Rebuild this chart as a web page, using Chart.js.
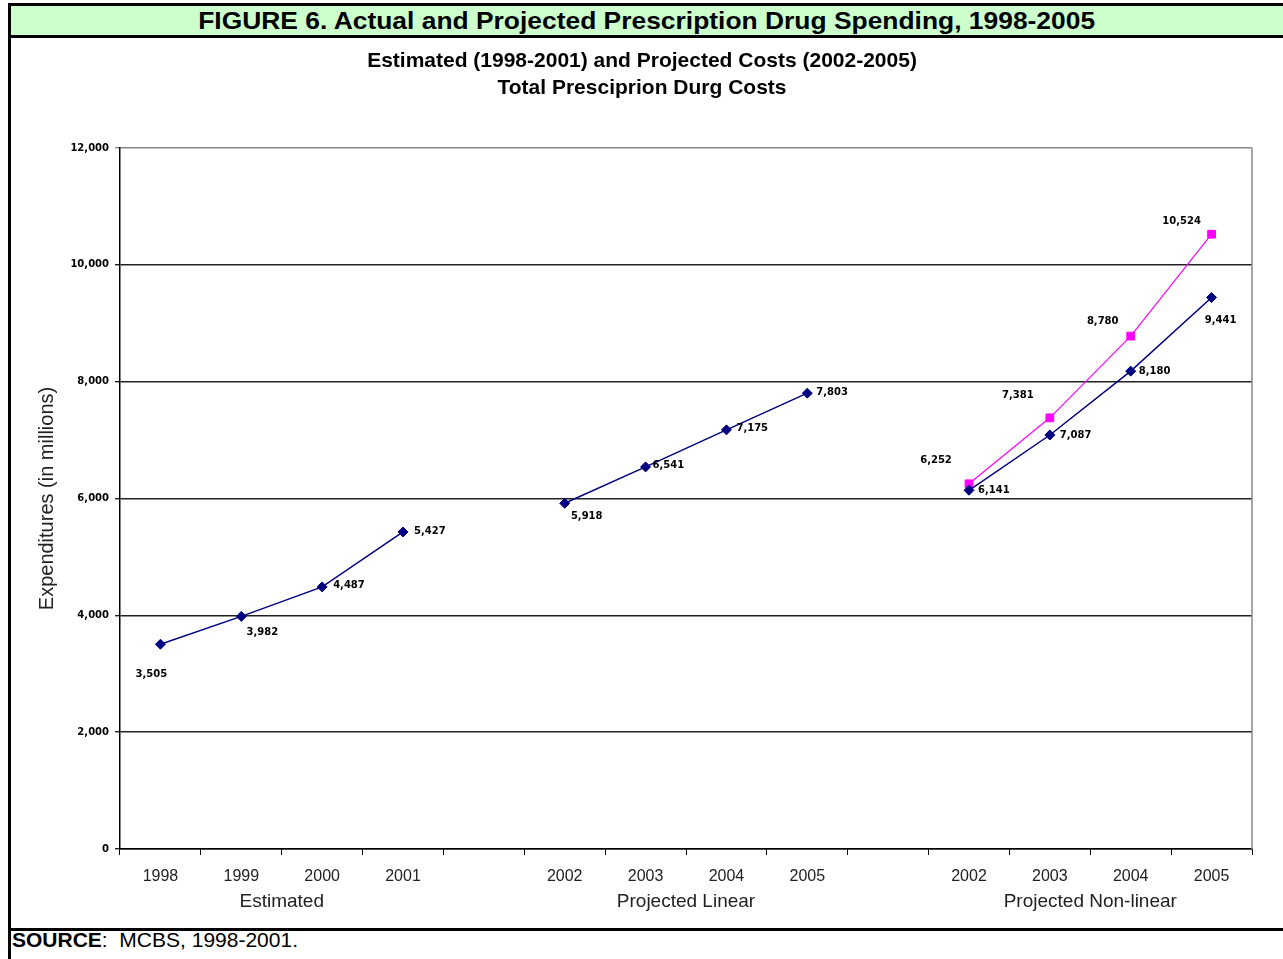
<!DOCTYPE html>
<html lang="en">
<head>
<meta charset="UTF-8">
<title>Figure 6 - Prescription Drug Spending</title>
<script src="https://cdn.jsdelivr.net/npm/chart.js"></script>
<style>
  body { margin: 0; background: #fff; overflow: hidden; font-family: Arial, "Liberation Sans", sans-serif; }
  .frame {
    position: absolute; left: 8px; top: 3px; width: 1272px;
    border-left: 3px solid #000; border-top: 3px solid #000;
  }
  .header {
    height: 29px; background: #ccffcc; border-bottom: 3px solid #000;
    text-align: center; line-height: 29px; font-size: 24px; font-weight: bold; color: #000;
  }
  .header span { display: inline-block; transform: scaleX(1.1); white-space: nowrap; }
  .chart-cell { position: relative; height: 890px; border-bottom: 3px solid #000; }
  .source { height: 40px; line-height: 18px; font-size: 21px; color: #000; padding-left: 1px; white-space: pre; }
</style>
</head>
<body>
<div class="frame">
  <div class="header"><span>FIGURE 6. Actual and Projected Prescription Drug Spending, 1998-2005</span></div>
  <div class="chart-cell"><canvas id="spending"></canvas></div>
  <div class="source"><b>SOURCE</b>:  MCBS, 1998-2001.</div>
</div>

<script>
// values (in millions)
const xLabels = ['1998', '1999', '2000', '2001', '', '2002', '2003', '2004', '2005', '', '2002', '2003', '2004', '2005'];
const groupNames = ['Estimated', 'Projected Linear', 'Projected Non-linear'];
const groupStarts = [0, 5, 10];
const estimated = [3505, 3982, 4487, 5427];
const projectedLinear = [5918, 6541, 7175, 7803];
const nonLinearLow = [6141, 7087, 8180, 9441];
const nonLinearHigh = [6252, 7381, 8780, 10524];
const yTicks = [0, 2000, 4000, 6000, 8000, 10000, 12000];

// put a group of 4 values at its place on the 14 slot axis
function placeAt(values, start) {
    const out = xLabels.map(() => null);
    values.forEach((v, i) => { out[start + i] = v; });
    return out;
}

const navy = '#000080';
const pink = '#ff00ff';

Chart.defaults.font.family = 'Arial, "Liberation Sans", sans-serif';
Chart.defaults.color = '#222';

// value labels next to the points, [dx, dy, align] per point
const pointLabels = {
    id: 'pointLabels',
    afterDatasetsDraw(chart) {
        const ctx = chart.ctx;
        ctx.save();
        ctx.font = 'bold 10px "DejaVu Sans"';
        ctx.fillStyle = '#000';
        ctx.textBaseline = 'middle';
        chart.data.datasets.forEach((ds, i) => {
            const meta = chart.getDatasetMeta(i);
            let k = 0;
            meta.data.forEach((pt, j) => {
                const v = ds.data[j];
                if (v == null) return;
                const [dx, dy, align] = ds.labelSpots[k++];
                ctx.textAlign = align;
                ctx.fillText(v.toLocaleString('en-US'), pt.x + dx, pt.y + dy);
            });
        });
        ctx.restore();
    }
};

// right plot border and the group names under the years
const extras = {
    id: 'extras',
    afterDraw(chart) {
        const { ctx, chartArea: a, scales: { x } } = chart;
        ctx.save();
        ctx.strokeStyle = '#888';
        ctx.lineWidth = 1.5;
        ctx.beginPath();
        ctx.moveTo(a.right, a.top);
        ctx.lineTo(a.right, a.bottom);
        ctx.stroke();

        ctx.font = '19px Arial, "Liberation Sans", sans-serif';
        ctx.fillStyle = '#222';
        ctx.textAlign = 'center';
        ctx.textBaseline = 'middle';
        groupStarts.forEach((s, g) => {
            const cx = (x.getPixelForValue(s + 1) + x.getPixelForValue(s + 2)) / 2;
            ctx.fillText(groupNames[g], cx, a.bottom + 53);
        });
        ctx.restore();
    }
};

function series(values, start, color, style, radius, width, spots) {
    return {
        data: placeAt(values, start),
        borderColor: color,
        backgroundColor: color,
        borderWidth: width,
        pointStyle: style,
        pointRadius: radius,
        pointBorderWidth: 1,
        spanGaps: false,
        tension: 0,
        labelSpots: spots
    };
}

new Chart(document.getElementById('spending'), {
    type: 'line',
    data: {
        labels: xLabels,
        datasets: [
            series(estimated, groupStarts[0], navy, 'rectRot', 5, 1.5,
                [[-9, 30, 'center'], [21, 16, 'center'], [11, -1, 'left'], [11, -1, 'left']]),
            series(projectedLinear, groupStarts[1], navy, 'rectRot', 5, 1.5,
                [[22, 13, 'center'], [7, -1, 'left'], [10, -1, 'left'], [9, -1, 'left']]),
            series(nonLinearLow, groupStarts[2], navy, 'rectRot', 5, 1.5,
                [[9, 0, 'left'], [10, 0, 'left'], [8, 0, 'left'], [9, 23, 'center']]),
            series(nonLinearHigh, groupStarts[2], pink, 'rect', 5.5, 1.2,
                [[-33, -23, 'center'], [-32, -22, 'center'], [-28, -15, 'center'], [-30, -13, 'center']])
        ]
    },
    options: {
        responsive: true,
        maintainAspectRatio: false,
        animation: false,
        layout: { padding: { left: 21, right: 31, top: 0, bottom: 0 } },
        plugins: {
            legend: { display: false },
            tooltip: { enabled: false },
            title: {
                display: true,
                text: ['Estimated (1998-2001) and Projected Costs (2002-2005)', 'Total Presciprion Durg Costs'],
                color: '#000',
                font: { size: 21, weight: 'bold', lineHeight: 27 / 21 },
                padding: { top: 10, bottom: 46 }
            }
        },
        scales: {
            x: {
                offset: true,
                afterFit: s => { s.height = 79; },
                grid: { offset: true, drawOnChartArea: false, drawTicks: true, tickLength: 6, color: '#000' },
                border: { color: '#000', width: 1.5 },
                ticks: { autoSkip: false, maxRotation: 0, padding: 12, color: '#222', font: { size: 16 } }
            },
            y: {
                min: 0,
                max: 12000,
                afterFit: s => { s.width = 88; },
                afterBuildTicks: s => { s.ticks = yTicks.map(v => ({ value: v })); },
                grid: {
                    color: c => (c.tick && c.tick.value === 12000 ? '#888' : '#222'),
                    lineWidth: 1.4,
                    tickLength: 5
                },
                border: { color: '#000', width: 1.5 },
                ticks: {
                    padding: 6,
                    color: '#000',
                    font: { family: '"DejaVu Sans"', size: 10, weight: 'bold' },
                    callback: v => v.toLocaleString('en-US')
                },
                title: {
                    display: true,
                    text: 'Expenditures (in millions)',
                    color: '#222',
                    font: { size: 20 },
                    padding: { top: 3, bottom: 0 }
                }
            }
        }
    },
    plugins: [pointLabels, extras]
});
</script>
</body>
</html>
